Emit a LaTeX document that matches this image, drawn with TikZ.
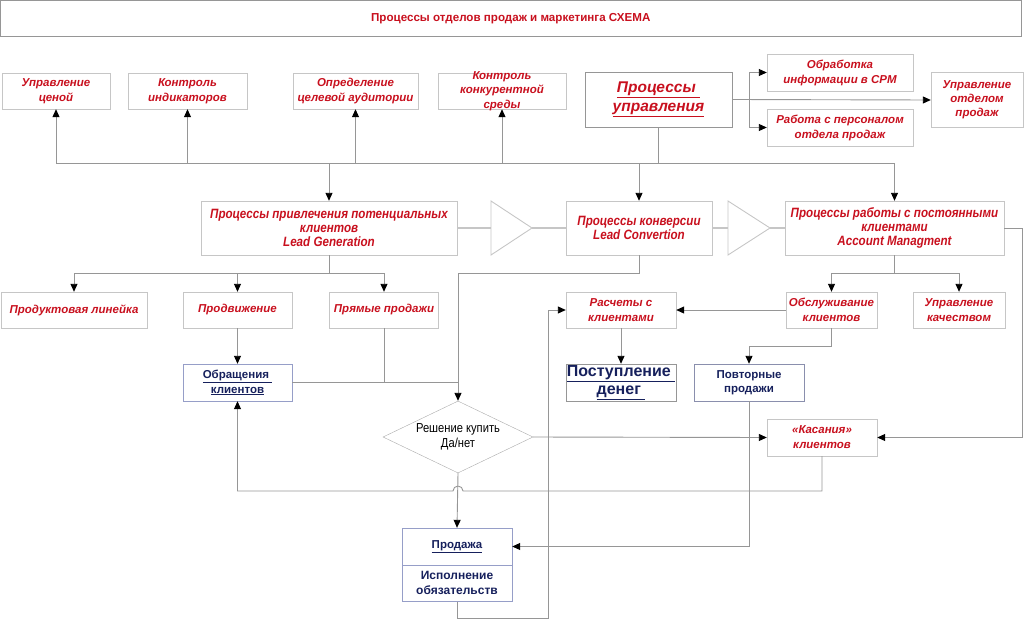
\documentclass[tikz,border=0pt]{standalone}
\usepackage{fontspec}
\setmainfont{Liberation Sans}
\newfontfamily\narrowsf[FakeStretch=0.86]{Liberation Sans}
\usepackage{xcolor}
\usepackage{tikz}
\usetikzlibrary{arrows.meta,shapes.geometric}

\definecolor{salesred}{RGB}{200,16,30}
\definecolor{salesnavy}{RGB}{22,32,92}
\definecolor{boxgray}{RGB}{198,198,198}
\definecolor{linegray}{RGB}{150,150,150}
\definecolor{boxblue}{RGB}{150,158,200}

\begin{document}
\begin{tikzpicture}[x=1pt,y=-1pt,
  redbox/.style={draw=boxgray, text=salesred, font=\fontsize{11.5}{15}\selectfont\bfseries\itshape, align=center, inner sep=1pt},
  procbox/.style={draw=boxgray, text=salesred, font=\narrowsf\fontsize{13.5}{14}\selectfont\bfseries\itshape, align=center, inner sep=1pt},
  navybox/.style={draw=boxblue, text=salesnavy, font=\fontsize{11.5}{15}\selectfont\bfseries, align=center, inner sep=1pt},
  link/.style={draw=linegray, line width=0.9pt, -{Triangle[color=black,length=8pt,width=7pt]}},
  wire/.style={draw=linegray, line width=0.9pt},
  pipe/.style={draw=boxgray, line width=2.4pt},
  chev/.style={draw=boxgray, line width=0.9pt},
]

\useasboundingbox (0,0) rectangle (1024,621);

\node[draw=linegray, minimum width=1020.5, minimum height=35.5, text=salesred, font=\fontsize{11.6}{13}\selectfont\bfseries] (title) at (510.75,18.25) {Процессы отделов продаж и маркетинга СХЕМА};

\node[redbox, minimum width=108, minimum height=36] (price) at (56,91) {Управление\\ценой};
\node[redbox, minimum width=119, minimum height=36] (indic) at (187.5,91) {Контроль\\индикаторов};
\node[redbox, minimum width=125, minimum height=36] (target) at (355.5,91) {Определение\\целевой аудитории};
\node[redbox, minimum width=128, minimum height=36] (compet) at (502,91) {};
\node[text=salesred, font=\fontsize{11.5}{14.5}\selectfont\bfseries\itshape, align=center] at (compet) {Контроль\\конкурентной\\среды};

\node[draw=linegray, minimum width=147, minimum height=55, text=salesred, font=\fontsize{15.5}{19}\selectfont\bfseries\itshape, align=center, inner sep=1pt] (mgmt) at (658.5,99.5) {\underline{Процессы }\\\underline{управления}};
\node[redbox, minimum width=146, minimum height=37] (crm) at (840,72.5) {Обработка\\информации в СРМ};
\node[redbox, minimum width=146, minimum height=37] (staff) at (840,127.5) {Работа с персоналом\\отдела продаж};
\node[redbox, minimum width=92, minimum height=55, font=\fontsize{11.5}{14}\selectfont\bfseries\itshape] (dept) at (977,100) {Управление\\отделом\\продаж};

\node[procbox, minimum width=256, minimum height=54] (leadgen) at (329,228) {Процессы привлечения потенциальных\\клиентов\\Lead Generation};
\node[procbox, minimum width=146, minimum height=54] (leadconv) at (639,228) {Процессы конверсии\\Lead Convertion};
\node[procbox, minimum width=219, minimum height=54] (account) at (894.5,228) {Процессы работы с постоянными\\клиентами\\Account Managment};

\draw[chev] (491,201) -- (532,228) -- (491,255) -- cycle;
\draw[chev] (728,201) -- (770,228) -- (728,255) -- cycle;
\coordinate (chevA) at (491,228);
\coordinate (tipA) at (532,228);
\coordinate (chevB) at (728,228);
\coordinate (tipB) at (770,228);

\node[redbox, minimum width=146, minimum height=36] (product) at (74,310) {Продуктовая линейка};
\node[redbox, minimum width=109, minimum height=36] (promo) at (237.5,310) {Продвижение};
\node[redbox, minimum width=109, minimum height=36] (direct) at (384,310) {Прямые продажи};
\node[redbox, minimum width=110, minimum height=36] (settle) at (621,310) {Расчеты с\\клиентами};
\node[redbox, minimum width=91, minimum height=36] (service) at (831.5,310) {Обслуживание\\клиентов};
\node[redbox, minimum width=92, minimum height=36] (quality) at (959,310) {Управление\\качеством};

\node[navybox, minimum width=109, minimum height=37] (appeal) at (237.5,382.5) {\underline{Обращения }\\\underline{клиентов}};
\node[navybox, draw=linegray, minimum width=110, minimum height=37, font=\fontsize{16}{18}\selectfont\bfseries] (money) at (621,382.5) {\underline{Поступление }\\\underline{денег }};
\node[navybox, draw=salesnavy!50, minimum width=110, minimum height=37, font=\fontsize{11.5}{14.5}\selectfont\bfseries] (resale) at (749,382.5) {Повторные\\продажи};

\node[diamond, draw=linegray!80, minimum width=150, minimum height=72, inner sep=0pt] (decide) at (458,437) {};
\node[align=center, font=\narrowsf\fontsize{13}{15}\selectfont] at (decide) {Решение купить\\Да/нет};
\node[redbox, minimum width=110, minimum height=37] (touch) at (822,437.5) {«Касания»\\клиентов};

\node[navybox, minimum width=110, minimum height=37] (saletop) at (457,546.5) {\underline{Продажа}};
\node[navybox, minimum width=110, minimum height=36, font=\fontsize{12}{15}\selectfont\bfseries, anchor=north] (salebot) at (saletop.south) {Исполнение\\обязательств};

\coordinate (bus) at (658.5,163);
\coordinate (mfork) at (749,99.5);
\coordinate (lgfork) at (329,273);
\coordinate (amfork) at (894.5,273);
\coordinate (retbend) at (548,618);
\coordinate (jump) at (463,491);

\draw[wire] (mgmt.south) -- (bus);
\foreach \n in {price,indic,target,compet}
  \draw[link] (bus) -| (\n.south);
\foreach \n in {leadgen,leadconv,account}
  \draw[link] (bus) -| (\n.north);

\draw[link] (mgmt.east) -- (dept.west);
\draw[link] (mfork) |- (crm.west);
\draw[link] (mfork) |- (staff.west);

\draw[pipe] (leadgen.east) -- (chevA);
\draw[pipe] (tipA) -- (leadconv.west);
\draw[pipe] (leadconv.east) -- (chevB);
\draw[pipe] (tipB) -- (account.west);

\draw[wire] (leadgen.south) -- (lgfork);
\foreach \n in {product,promo,direct}
  \draw[link] (lgfork) -| (\n.north);
\draw[wire] (account.south) -- (amfork);
\foreach \n in {service,quality}
  \draw[link] (amfork) -| (\n.north);

\draw[link] (promo.south) -- (appeal.north);
\draw[wire] (direct.south) -- (direct.south |- appeal.east);
\draw[wire] (appeal.east) -- (decide.north |- appeal.east);
\draw[link] (leadconv.south) |- (decide.north |- lgfork) -- (decide.north);

\draw[link] (service.west) -- (settle.east);
\draw[link] (settle.south) -- (money.north);
\draw[link] (service.south) -- ++(0,18) -| (resale.north);

\draw[link] (decide.east) -- (touch.west);
\draw[link] (account.east) -- ++(18,0) |- (touch.east);
\draw[link] (touch.south) |- (jump) arc[start angle=0, end angle=180, radius=5pt] -| (appeal.south);

\draw[link] (decide.south) -- (saletop.north);
\draw[link] (resale.south) |- (saletop.east);
\draw[link] (salebot.south) |- (retbend) |- (settle.west);

\end{tikzpicture}
\end{document}
